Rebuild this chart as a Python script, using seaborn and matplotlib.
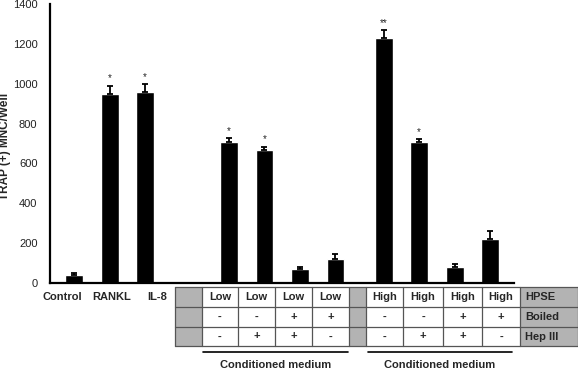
import numpy as np
import pandas as pd
import matplotlib
matplotlib.use("Agg")
import matplotlib.pyplot as plt
import seaborn as sns

# Data
ctrl_labels = ["Control", "RANKL", "IL-8"]
ctrl_vals = [40, 947, 960]
ctrl_err = [12, 43, 37]
ctrl_stars = ["", "*", "*"]

hpse = ["Low", "Low", "Low", "Low", "High", "High", "High", "High"]
boiled = ["-", "-", "+", "+", "-", "-", "+", "+"]
hep3 = ["-", "+", "+", "-", "-", "+", "+", "-"]
cm_vals = [709, 669, 69, 119, 1228, 709, 80, 219]
cm_err = [17, 15, 13, 25, 41, 12, 14, 42]
cm_stars = ["*", "*", "", "", "**", "*", "", ""]

row_names = ["HPSE", "Boiled", "Hep III"]
group_title = "Conditioned medium"

# layout: x position of each bar (axis units)
starts = [0.68, 5.04, 9.40]
xpos = np.concatenate([starts[0] + np.arange(3),
                       starts[1] + np.arange(4),
                       starts[2] + np.arange(4)])

vals = ctrl_vals + cm_vals
errs = ctrl_err + cm_err
stars = ctrl_stars + cm_stars
df = pd.DataFrame({"x": xpos, "val": vals})

sns.set_style("white")
plt.rcParams["font.family"] = ["Liberation Sans", "DejaVu Sans"]

fig = plt.figure(figsize=(5.78, 3.71), dpi=100)
ax = fig.add_axes([50 / 578, 1 - 283 / 371, 464 / 578, 279 / 371])

sns.barplot(data=df, x="x", y="val", native_scale=True, color="black",
            width=0.5, errorbar=None, ax=ax, saturation=1)
ax.errorbar(xpos, vals, yerr=[np.zeros(len(errs)), errs], fmt="none",
            ecolor="black", elinewidth=1.3, capsize=2.5, capthick=1.3)
for x, v, e, s in zip(xpos, vals, errs, stars):
    if s:
        ax.text(x, v + e + 12, s, ha="center", va="bottom", fontsize=7)

ax.set_xlim(0, 13.07)
ax.set_ylim(0, 1400)
ax.set_yticks(range(0, 1401, 200))
ax.tick_params(axis="y", direction="in", length=3, width=1, labelsize=8,
               pad=9, labelcolor="#222222")
ax.set_xticks([])
ax.set_xlabel("")
ax.set_ylabel("TRAP (+) MNC/Well", fontweight="bold", fontsize=8.5)
ax.yaxis.set_label_coords(-0.084, 0.49)
for side in ["top", "right"]:
    ax.spines[side].set_visible(False)
for side in ["left", "bottom"]:
    ax.spines[side].set_linewidth(1.6)
    ax.spines[side].set_color("black")

# Table under the bars, drawn in pixel coordinates
tab = fig.add_axes([0, 0, 1, 1])
tab.set_xlim(0, 578)
tab.set_ylim(371, 0)
tab.axis("off")
tab.patch.set_alpha(0)

for xc, lab in zip([62, 112, 157], ctrl_labels):
    tab.text(xc, 297, lab, ha="center", va="center", fontsize=8,
             fontweight="bold")

col_edges = [175, 202, 238, 275, 312, 349, 366, 403, 443, 482, 520, 578]
row_edges = [287, 307, 327, 346]
gray = "#b3b3b3"
edge = "#555555"
gray_cols = [0, 5, 10]
for ci in gray_cols:
    tab.add_patch(plt.Rectangle((col_edges[ci], row_edges[0]),
                                col_edges[ci + 1] - col_edges[ci],
                                row_edges[-1] - row_edges[0],
                                facecolor=gray, edgecolor="none"))
for xe in col_edges:
    tab.plot([xe, xe], [row_edges[0], row_edges[-1]], color=edge, lw=0.9)
for ye in row_edges:
    tab.plot([col_edges[0], col_edges[-1]], [ye, ye], color=edge, lw=0.9)

data_cols = [1, 2, 3, 4, 6, 7, 8, 9]
for ri, row in enumerate([hpse, boiled, hep3]):
    yc = (row_edges[ri] + row_edges[ri + 1]) / 2
    for ci, txt in zip(data_cols, row):
        xc = (col_edges[ci] + col_edges[ci + 1]) / 2
        tab.text(xc, yc, txt, ha="center", va="center", fontsize=8,
                 fontweight="bold")
    tab.text(525, yc, row_names[ri], ha="left", va="center", fontsize=8,
             fontweight="bold")

for x0, x1 in [(203, 348), (368, 512)]:
    tab.plot([x0, x1], [352, 352], color="black", lw=1.2)
    tab.text((x0 + x1) / 2, 365, group_title, ha="center", va="center",
             fontsize=8, fontweight="bold")

fig.savefig("out.png", dpi=100)
